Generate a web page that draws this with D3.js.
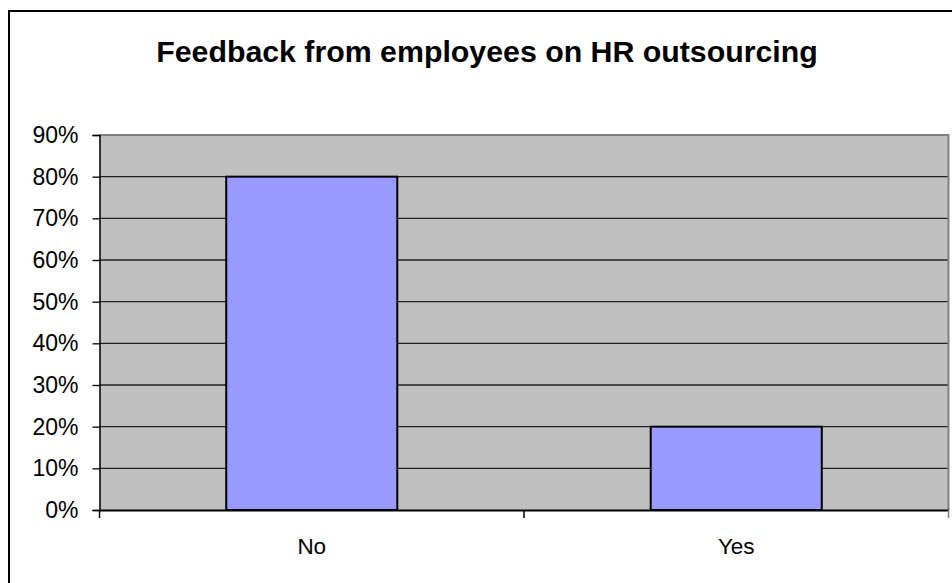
<!DOCTYPE html>
<html>
<head>
<meta charset="utf-8">
<script src="https://cdn.jsdelivr.net/npm/d3@7"></script>
<style>
  html, body { margin: 0; padding: 0; background: #fff; }
  svg { display: block; font-family: Arial, "Liberation Sans", sans-serif; }
</style>
</head>
<body>
<svg id="chart" width="952" height="583"></svg>
<script>
const title = "Feedback from employees on HR outsourcing";
const categories = ["No", "Yes"];
const values = [0.8, 0.2];
const yTicks = [0, 0.1, 0.2, 0.3, 0.4, 0.5, 0.6, 0.7, 0.8, 0.9];

const svg = d3.select("#chart");
const plot = { left: 99.5, top: 135, right: 948.5, bottom: 510 };

// outer frame
svg.append("rect")
  .attr("x", 9).attr("y", 11)
  .attr("width", 980).attr("height", 620)
  .attr("fill", "#fff").attr("stroke", "#000").attr("stroke-width", 2);

const x = d3.scaleBand().domain(categories).range([plot.left, plot.right]).padding(0);
const y = d3.scaleLinear().domain([0, 0.9]).range([plot.bottom, plot.top]);

// plot background
svg.append("rect")
  .attr("x", plot.left).attr("y", plot.top)
  .attr("width", plot.right - plot.left).attr("height", plot.bottom - plot.top)
  .attr("fill", "#c0c0c0");

// gridlines
svg.append("g").selectAll("line").data(yTicks.filter(d => d > 0 && d < 0.9)).join("line")
  .attr("x1", plot.left).attr("x2", plot.right)
  .attr("y1", d => y(d)).attr("y2", d => y(d))
  .attr("stroke", "#222").attr("stroke-width", 1.3);

// plot border top/right (gray)
svg.append("path")
  .attr("d", `M${plot.left},${plot.top}H${plot.right}V${plot.bottom}`)
  .attr("fill", "none").attr("stroke", "#808080").attr("stroke-width", 2);

// bars
const barFrac = 0.403;
svg.append("g").selectAll("rect").data(categories).join("rect")
  .attr("x", d => x(d) + x.bandwidth() * (1 - barFrac) / 2)
  .attr("width", x.bandwidth() * barFrac)
  .attr("y", (d, i) => y(values[i]))
  .attr("height", (d, i) => y(0) - y(values[i]))
  .attr("fill", "#9999ff").attr("stroke", "#000").attr("stroke-width", 2);

// y axis
const yAxis = svg.append("g").attr("transform", `translate(${plot.left},0)`)
  .call(d3.axisLeft(y).tickValues(yTicks).tickFormat(d3.format(".0%")).tickSize(7).tickPadding(14));
yAxis.select(".domain").attr("stroke", "#000").attr("stroke-width", 1.5);
yAxis.selectAll(".tick line").attr("stroke", "#000").attr("stroke-width", 1.3);
yAxis.selectAll("text").attr("font-size", 23).attr("fill", "#000")
  .attr("font-family", "Arial, 'Liberation Sans', sans-serif");

// x axis
const xAxis = svg.append("g").attr("transform", `translate(0,${plot.bottom})`)
  .call(d3.axisBottom(x).tickSize(0).tickPadding(28));
xAxis.select(".domain").attr("stroke", "#000").attr("stroke-width", 2);
xAxis.selectAll("text").attr("font-size", 22.5).attr("fill", "#000")
  .attr("font-family", "Arial, 'Liberation Sans', sans-serif");
// category boundary ticks
const bounds = [plot.left, plot.left + x.bandwidth(), plot.right];
svg.append("g").selectAll("line").data(bounds).join("line")
  .attr("x1", d => d).attr("x2", d => d)
  .attr("y1", plot.bottom).attr("y2", plot.bottom + 8)
  .attr("stroke", (d, i) => i === 2 ? "#808080" : "#000").attr("stroke-width", 1.5);

// title
svg.append("text")
  .attr("x", 487).attr("y", 62)
  .attr("text-anchor", "middle")
  .attr("font-size", 30.3).attr("font-weight", "bold").attr("fill", "#000")
  .text(title);
</script>
</body>
</html>
